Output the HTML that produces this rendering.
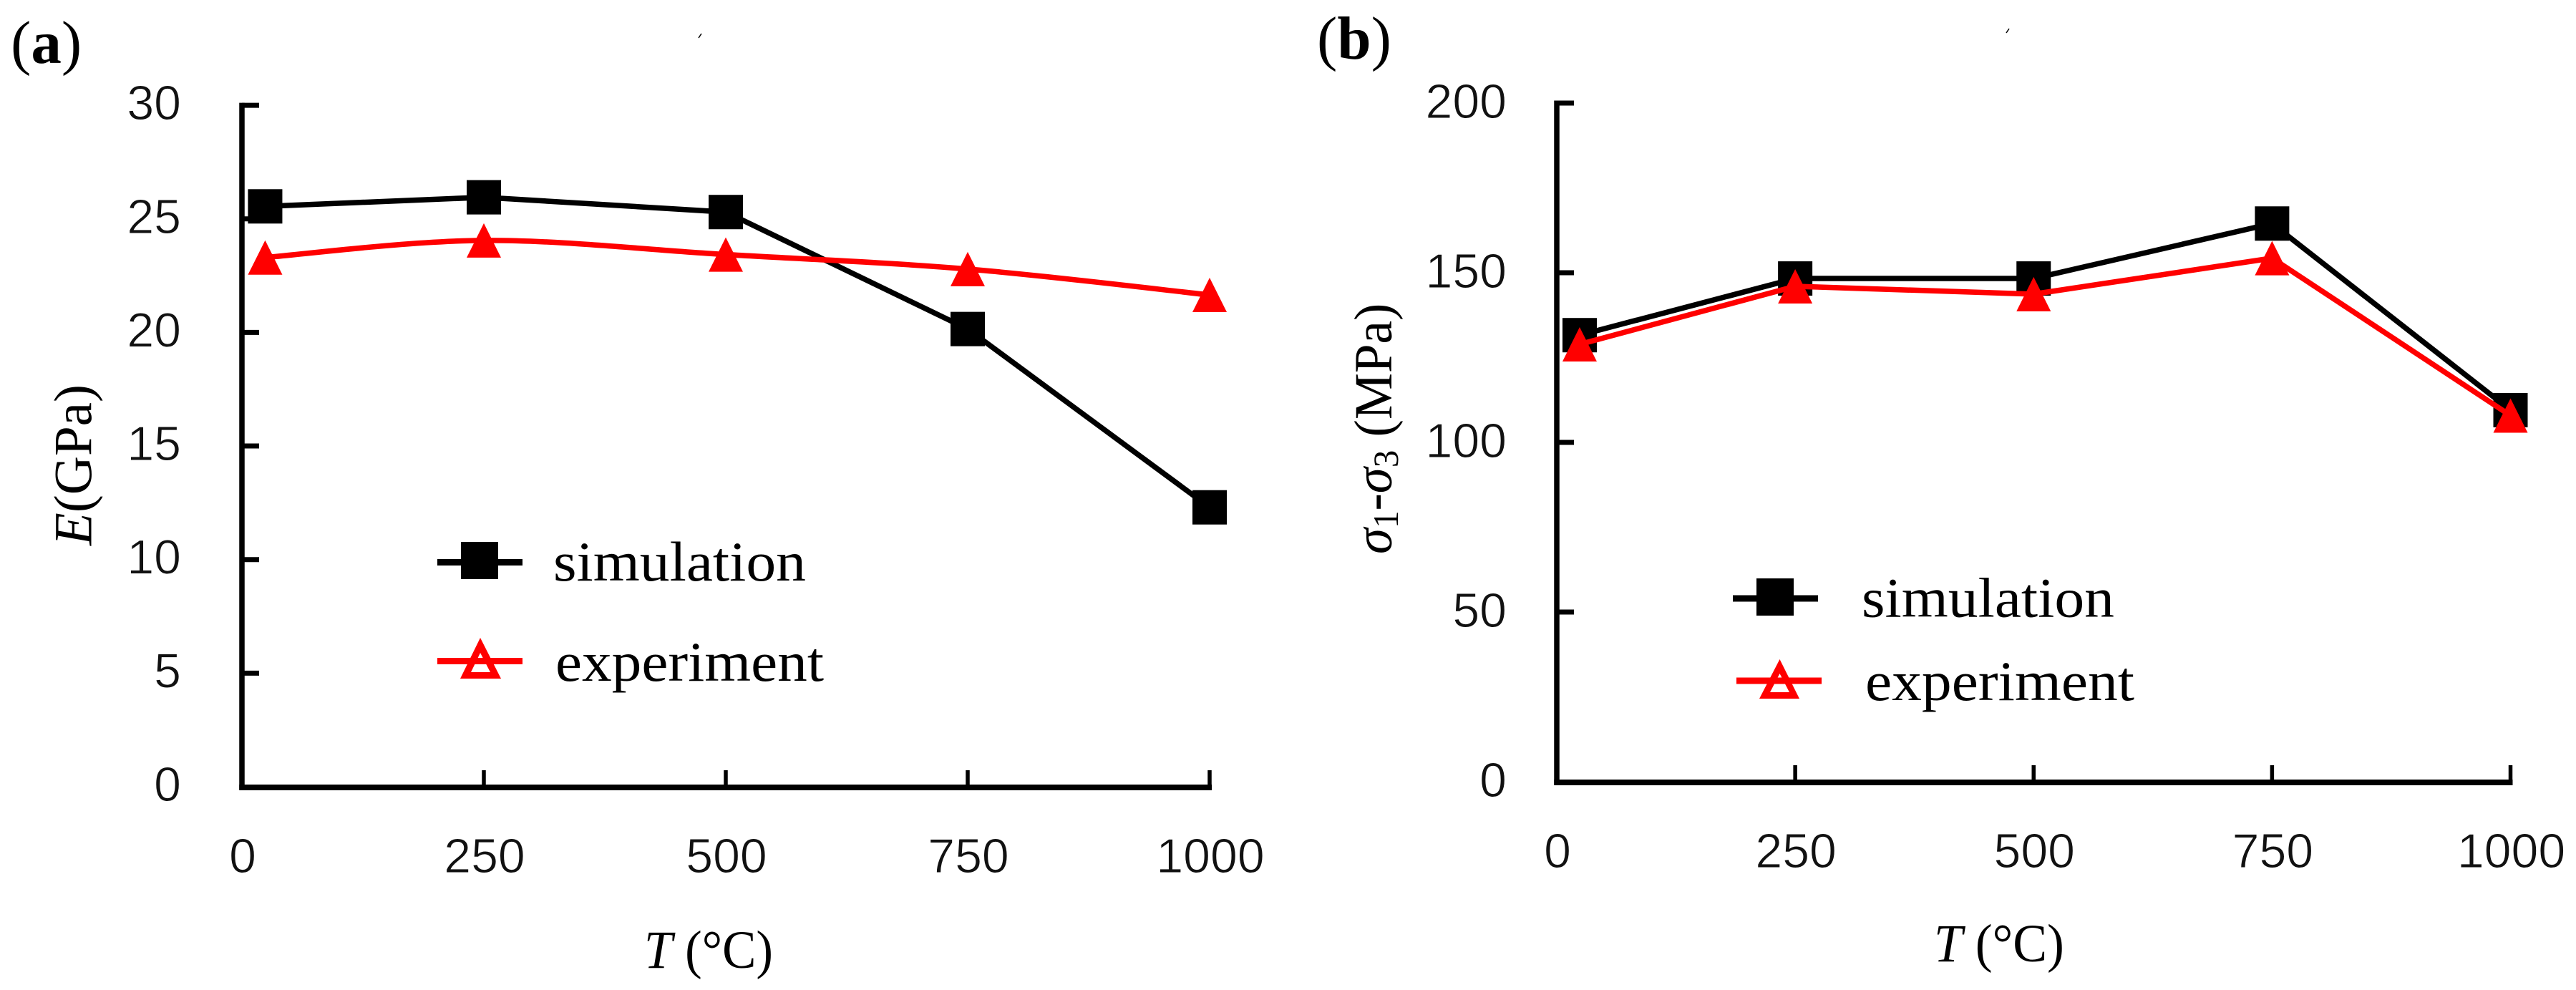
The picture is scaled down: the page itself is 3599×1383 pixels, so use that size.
<!DOCTYPE html>
<html lang="en">
<head>
<meta charset="utf-8">
<title>Elastic modulus and peak strength versus temperature</title>
<style>
html,body{margin:0;padding:0;background:#fff;width:3599px;height:1383px;overflow:hidden}
svg{display:block}
.serif{font-family:"Liberation Serif","Noto Serif CJK SC",serif;fill:#000}
.tick{font-family:"Liberation Sans","DejaVu Sans",sans-serif;font-size:68px;fill:#111;stroke:#fff;stroke-width:0.9px}
</style>
</head>
<body>
<svg id="figure" xmlns="http://www.w3.org/2000/svg" width="3599" height="1383" viewBox="0 0 3599 1383">
  <rect width="3599" height="1383" fill="#fff"/>

  <g id="panelA">
    <text class="serif" x="15" y="88" font-size="85">(<tspan font-weight="bold">a</tspan>)</text>
    <line x1="976" y1="53" x2="980" y2="47" stroke="#000" stroke-width="1.5"/>
    <text class="serif" font-size="75" transform="translate(127.5,762) rotate(-90)"><tspan font-style="italic">E</tspan>(GPa)</text>
    <text class="serif" font-size="75" transform="translate(900,1352) scale(0.945,1)"><tspan font-style="italic">T</tspan> (°C)</text>
  </g>

  <g id="panelB">
    <text class="serif" x="1840" y="82" font-size="85">(<tspan font-weight="bold">b</tspan>)</text>
    <line x1="2803" y1="46" x2="2807" y2="40" stroke="#000" stroke-width="1.5"/>
    <text class="serif" font-size="75" transform="translate(1944,774) rotate(-90) scale(0.975,1)"><tspan font-style="italic">σ</tspan><tspan font-size="50" dy="9">1</tspan><tspan dy="-9">-</tspan><tspan font-style="italic">σ</tspan><tspan font-size="50" dy="9">3</tspan><tspan dy="-9"> (MPa)</tspan></text>
    <text class="serif" font-size="75" transform="translate(2702,1343) scale(0.955,1)"><tspan font-style="italic">T</tspan> (°C)</text>
  </g>

  <g id="legendA">
    <g>
      <rect x="611" y="781" width="119" height="9" fill="#000"/>
      <rect x="644" y="757" width="52" height="52" fill="#000"/>
      <text class="serif" x="773" y="811" font-size="78" textLength="353" lengthAdjust="spacingAndGlyphs">simulation</text>
    </g>
    <g>
      <path fill="#f00" fill-rule="evenodd" d="M671 891L700 948H643ZM671 912L658 939H685Z"/>
      <rect x="611" y="919" width="119" height="9" fill="#f00"/>
      <text class="serif" x="776" y="951" font-size="78" textLength="375" lengthAdjust="spacingAndGlyphs">experiment</text>
    </g>
  </g>

  <g id="legendB">
    <g>
      <rect x="2421" y="831.5" width="119" height="9" fill="#000"/>
      <rect x="2454" y="808" width="52" height="52" fill="#000"/>
      <text class="serif" x="2601" y="861.5" font-size="78" textLength="353" lengthAdjust="spacingAndGlyphs">simulation</text>
    </g>
    <g>
      <path fill="#f00" fill-rule="evenodd" d="M2486.5 921L2514 976H2458ZM2486.5 941L2473 967H2500Z"/>
      <rect x="2426" y="946.5" width="119" height="9" fill="#f00"/>
      <text class="serif" x="2606" y="978" font-size="78" textLength="376" lengthAdjust="spacingAndGlyphs">experiment</text>
    </g>
  </g>
</svg>

<script>
// Chart data
const temperatures = [24, 250, 500, 750, 1000];
const xTickValues = [0, 250, 500, 750, 1000];
const yTicksA = [0, 5, 10, 15, 20, 25, 30];
const yTicksB = [0, 50, 100, 150, 200];
const simulationA = [25.55, 25.95, 25.3, 20.15, 12.3];
const experimentA = [23.3, 24.05, 23.43, 22.79, 21.65];
const simulationB = [131.6, 148.3, 148.3, 164.5, 109.5];
const experimentB = [128.9, 146, 143.7, 154.3, 107.9];

// Axis functions
function xA(t) { return 338 + t * 1.352; }
function yA(v) { return 1099 - v * 31.73; }
function xB(t) { return 2175 + t * 1.3325; }
function yB(v) { return 1092 - v * 4.74; }

const NS = 'http://www.w3.org/2000/svg';
function mk(tag, parent, attrs) {
  const el = document.createElementNS(NS, tag);
  for (const k in attrs) el.setAttribute(k, attrs[k]);
  parent.appendChild(el);
  return el;
}

function drawAxes(parent, sx, sy, yTicks, opts) {
  const x0 = sx(0), xEnd = sx(xTickValues[xTickValues.length - 1]);
  const yAxis = mk('line', parent, { x1: x0, x2: x0, y1: sy(yTicks[yTicks.length - 1]) - 3.5, y2: sy(0) + 4, stroke: '#000', 'stroke-width': 7.5 });
  
  
  const xAxis = mk('line', parent, { x1: x0 - 3.75, x2: xEnd + 3, y1: sy(0) + opts.xAxisOffset, y2: sy(0) + opts.xAxisOffset, stroke: '#000', 'stroke-width': 8 });
  
  

  yTicks.forEach(function (v) {
    if (v !== 0) {
      const t = mk('line', parent, { x1: x0, x2: x0 + 24, y1: sy(v), y2: sy(v), stroke: '#000', 'stroke-width': 7 });
      
      
    }
    const lab = mk('text', parent, { x: opts.yLabelRight, y: sy(v) + opts.yLabelDrop, 'text-anchor': 'end', class: 'tick' });
    
    
    lab.textContent = String(v);
  });

  xTickValues.forEach(function (v) {
    if (v !== 0) {
      const t = mk('line', parent, { x1: sx(v), x2: sx(v), y1: sy(0) - 23, y2: sy(0) + opts.xAxisOffset, stroke: '#000', 'stroke-width': 5.5 });
      
      
    }
    const lab = mk('text', parent, { x: sx(v) + opts.xLabelShift, y: opts.xLabelBaseline, 'text-anchor': 'middle', class: 'tick' });
    
    
    lab.textContent = String(v);
  });
}

function linePath(pts, smooth) {
  let d = 'M' + pts[0][0] + ' ' + pts[0][1];
  for (let i = 1; i < pts.length; i++) {
    if (!smooth) { d += 'L' + pts[i][0] + ' ' + pts[i][1]; continue; }
    const p0 = pts[Math.max(i - 2, 0)], p1 = pts[i - 1], p2 = pts[i], p3 = pts[Math.min(i + 1, pts.length - 1)];
    d += 'C' + (p1[0] + (p2[0] - p0[0]) / 6) + ' ' + (p1[1] + (p2[1] - p0[1]) / 6) + ' ' +
         (p2[0] - (p3[0] - p1[0]) / 6) + ' ' + (p2[1] - (p3[1] - p1[1]) / 6) + ' ' + p2[0] + ' ' + p2[1];
  }
  return d;
}

function drawSeries(parent, sx, sy, values, color, marker, smooth) {
  const pts = values.map(function (v, i) { return [sx(temperatures[i]), sy(v)]; });
  const path = mk('path', parent, { d: linePath(pts, smooth), fill: 'none', stroke: color, 'stroke-width': 7.5, 'stroke-linejoin': 'round' });
  
  
  pts.forEach(function (p) {
    let m;
    if (marker === 'square') {
      m = mk('rect', parent, { x: p[0] - 24, y: p[1] - 24, width: 48, height: 48, fill: color });
      
    } else {
      m = mk('path', parent, { d: 'M' + p[0] + ' ' + (p[1] - 24) + 'L' + (p[0] + 24) + ' ' + (p[1] + 24) + 'H' + (p[0] - 24) + 'Z', fill: color });
      
    }
    
  });
}

const panelA = document.getElementById('panelA');
const panelB = document.getElementById('panelB');
drawAxes(panelA, xA, yA, yTicksA, { xAxisOffset: 1, yLabelRight: 253, yLabelDrop: 20, xLabelShift: 1, xLabelBaseline: 1219 });
drawSeries(panelA, xA, yA, simulationA, '#000', 'square', false);
drawSeries(panelA, xA, yA, experimentA, '#f00', 'triangle', true);
drawAxes(panelB, xB, yB, yTicksB, { xAxisOffset: 1, yLabelRight: 2105, yLabelDrop: 21, xLabelShift: 1, xLabelBaseline: 1212 });
drawSeries(panelB, xB, yB, simulationB, '#000', 'square', false);
drawSeries(panelB, xB, yB, experimentB, '#f00', 'triangle', false);
</script>
</body>
</html>
